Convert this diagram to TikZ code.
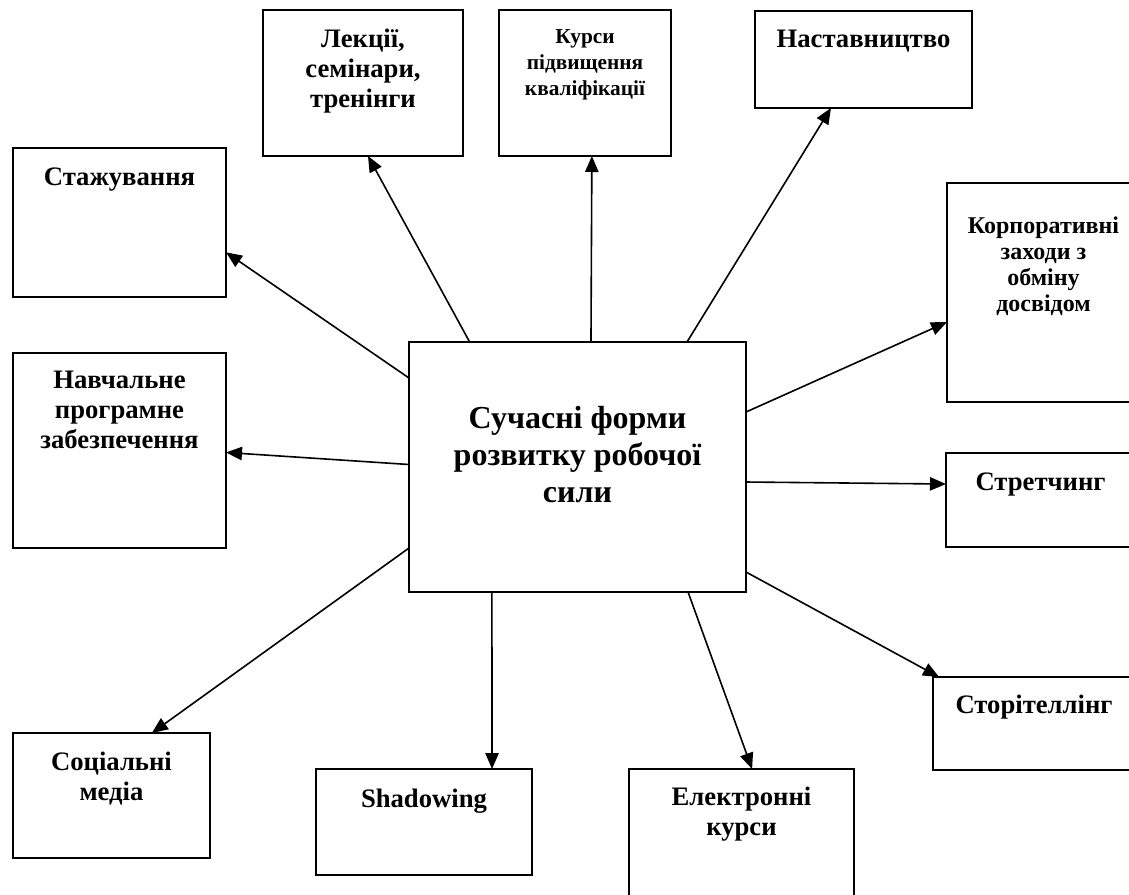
\documentclass[tikz,border=0pt]{standalone}
\usepackage{fontspec}
\setmainfont{Liberation Serif}
\usetikzlibrary{arrows.meta,calc}
\newcommand{\boxlabel}[4]{\parbox[c][\dimexpr0.75pt*#1\relax][t]{\dimexpr0.75pt*#2\relax}{\centering\rule{0pt}{\dimexpr0.75pt*#3\relax}#4\par}}
\begin{document}
\begin{tikzpicture}[x=0.75pt,y=-0.75pt,
  frame/.style={draw, line width=1.6pt, inner sep=0pt, outer sep=0pt},
  bigtxt/.style={font={\fontsize{24pt}{27.75pt}\selectfont\bfseries}},
  midtxt/.style={font={\fontsize{20pt}{22.5pt}\selectfont\bfseries}},
  corptxt/.style={font={\fontsize{18pt}{19.5pt}\selectfont\bfseries}},
  smalltxt/.style={font={\fontsize{16pt}{19.5pt}\selectfont\bfseries}},
  conn/.style={line width=1.2pt, -{Triangle[length=12pt,width=10pt]}}]
\clip (0,0) rectangle (1129,894);
\fill[white] (0,0) rectangle (1129,894);

\node[frame,bigtxt] (c) at (577.5,467) {\boxlabel{250}{337}{86}{Сучасні форми\\розвитку робочої\\сили}};
\node[frame,midtxt] (lek) at (363,83) {\boxlabel{146}{200}{37}{Лекції,\\семінари,\\тренінги}};
\node[frame,smalltxt] (kur) at (585,83) {\boxlabel{146}{172}{33}{Курси\\підвищення\\кваліфікації}};
\node[frame,midtxt] (nas) at (863.5,59.5) {\boxlabel{97}{217}{36}{Наставництво}};
\node[frame,midtxt] (sta) at (119.5,222.5) {\boxlabel{149}{213}{37}{Стажування}};
\node[frame,midtxt] (nav) at (119.5,450.5) {\boxlabel{195}{213}{35}{Навчальне\\програмне\\забезпечення}};
\node[frame,corptxt] (kor) at (1043.5,292.5) {\boxlabel{219}{193}{50}{Корпоративні\\заходи з\\обміну\\досвідом}};
\node[frame,midtxt] (str) at (1040.5,500) {\boxlabel{94}{189}{37}{Стретчинг}};
\node[frame,midtxt] (sto) at (1034,723.5) {\boxlabel{93}{202}{36}{Сторітеллінг}};
\node[frame,midtxt] (soc) at (111.5,795.5) {\boxlabel{125}{197}{37}{Соціальні\\медіа}};
\node[frame,midtxt] (sha) at (424,822) {\boxlabel{106}{216}{38}{Shadowing}};
\node[frame,midtxt] (ele) at (741.5,844.5) {\boxlabel{151}{225}{36}{Електронні\\курси}};

\draw[conn] ($(c.north west)!0.18!(c.north east)$) -- ($(lek.south west)!0.525!(lek.south east)$);
\draw[conn] ($(c.north west)!0.54!(c.north east)$) -- ($(kur.south west)!0.54!(kur.south east)$);
\draw[conn] ($(c.north west)!0.825!(c.north east)$) -- ($(nas.south west)!0.35!(nas.south east)$);
\draw[conn] ($(c.north west)!0.144!(c.south west)$) -- ($(sta.north east)!0.70!(sta.south east)$);
\draw[conn] ($(c.north west)!0.49!(c.south west)$) -- ($(nav.north east)!0.51!(nav.south east)$);
\draw[conn] ($(c.north west)!0.824!(c.south west)$) -- ($(soc.north west)!0.705!(soc.north east)$);
\draw[conn] ($(c.north east)!0.28!(c.south east)$) -- ($(kor.north west)!0.635!(kor.south west)$);
\draw[conn] ($(c.north east)!0.56!(c.south east)$) -- ($(str.north west)!0.33!(str.south west)$);
\draw[conn] ($(c.north east)!0.92!(c.south east)$) -- ($(sto.north west)!0.03!(sto.north east)$);
\draw[conn] ($(c.south west)!0.246!(c.south east)$) -- ($(sha.north west)!0.815!(sha.north east)$);
\draw[conn] ($(c.south west)!0.828!(c.south east)$) -- ($(ele.north west)!0.547!(ele.north east)$);
\end{tikzpicture}
\end{document}
